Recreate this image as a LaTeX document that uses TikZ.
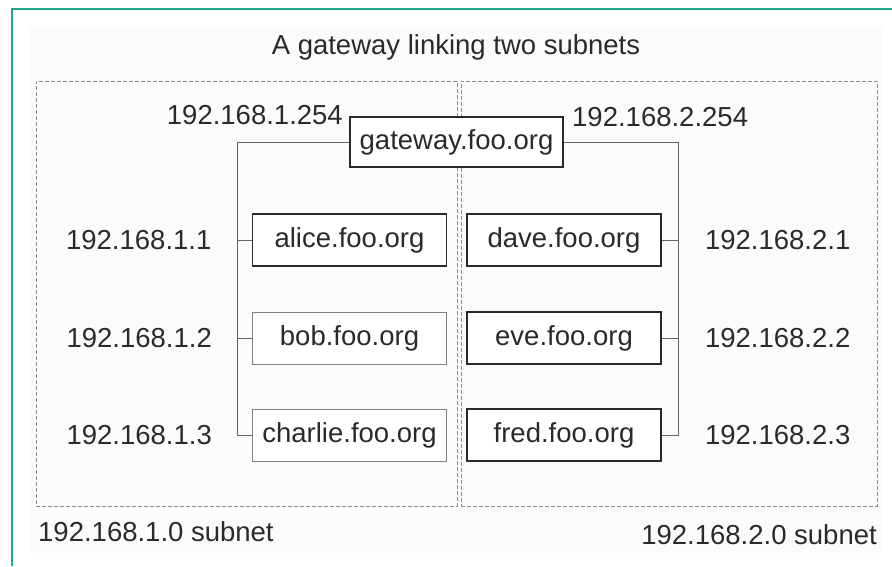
\documentclass[tikz,border=0pt]{standalone}
\usepackage{fontspec}
\setmainfont{Liberation Sans}
\usetikzlibrary{positioning}
\definecolor{FrameTeal}{HTML}{1FA88B}
\definecolor{InkGray}{HTML}{2A2A2A}
\definecolor{PaleBack}{HTML}{FBFBFB}

\begin{document}
\begin{tikzpicture}[
    x=1pt, y=-1pt,
    every node/.style={font=\fontsize{27.5}{32}\selectfont, text=InkGray},
    host/.style={draw=InkGray, fill=white, line width=1.8pt, minimum width=194pt,
      minimum height=52pt, inner sep=0pt},
    thinhost/.style={host, draw=black!50, line width=0.9pt},
    subnet/.style={draw=black!45, dash pattern=on 4pt off 2pt,
      line width=0.8pt, inner sep=0pt},
    link/.style={draw=black!60, line width=1pt},
    ip/.style={inner sep=0pt}
  ]
    \useasboundingbox (0,0) rectangle (892,566);
    \fill[PaleBack] (30,27) rectangle (882,553);
    \draw[FrameTeal, line width=2pt] (12,566) -- (12,9) -- (892,9);

    \node (title) at (456,47) {A gateway linking two subnets};
    \node[subnet, minimum width=421pt, minimum height=425pt] (lnet) at (246.5,293.5) {};
    \node[subnet, minimum width=416pt, minimum height=425pt] (rnet) at (669,293.5) {};

    \node[host, minimum width=213pt, minimum height=50pt] (gw) at (456.5,142) {gateway.foo.org};
    \node[host] (alice) at (349.5,240) {alice.foo.org};
    \node[thinhost] (bob) at (349.5,338) {bob.foo.org};
    \node[thinhost] (charlie) at (349.5,435) {charlie.foo.org};
    \node[host] (dave) at (564,240) {dave.foo.org};
    \node[host] (eve) at (564,338) {eve.foo.org};
    \node[host] (fred) at (564,435) {fred.foo.org};

    \node[ip, anchor=east] (gwleft) at (343,115) {192.168.1.254};
    \node[ip, anchor=west] (gwright) at (572,117) {192.168.2.254};
    \node[ip, left=40pt of alice] (ipalice) {192.168.1.1};
    \node[ip, left=40pt of bob] (ipbob) {192.168.1.2};
    \node[ip, left=40pt of charlie] (ipcharlie) {192.168.1.3};
    \node[ip, right=43pt of dave] (ipdave) {192.168.2.1};
    \node[ip, right=43pt of eve] (ipeve) {192.168.2.2};
    \node[ip, right=43pt of fred] (ipfred) {192.168.2.3};

    \node[ip, anchor=west] (lname) at (38,532) {192.168.1.0 subnet};
    \node[ip, anchor=east] (rname) at (877,535) {192.168.2.0 subnet};

    % the two buses
    \coordinate (lbus) at (237,0);
    \coordinate (rbus) at (678,0);
    \draw[link] (gw.west) -| (lbus |- charlie.west) -- (charlie.west);
    \draw[link] (alice.west) -- (lbus |- alice.west);
    \draw[link] (bob.west) -- (lbus |- bob.west);
    \draw[link] (gw.east) -| (rbus |- fred.east) -- (fred.east);
    \draw[link] (dave.east) -- (rbus |- dave.east);
    \draw[link] (eve.east) -- (rbus |- eve.east);
\end{tikzpicture}
\end{document}
